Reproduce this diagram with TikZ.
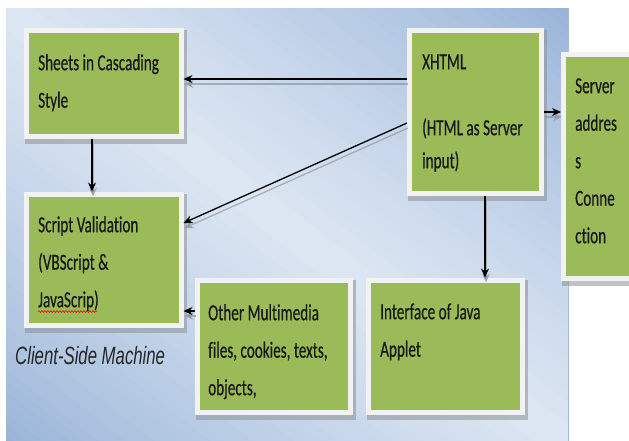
\documentclass[tikz,border=0pt]{standalone}
\usepackage{fontspec}
\newfontfamily\boxfont[FakeStretch=0.66,FakeBold=0.5,Ligatures=NoCommon]{Carlito}
\newfontfamily\capfont[FakeStretch=0.67]{Liberation Sans}
\usetikzlibrary{arrows.meta,decorations.pathmorphing}
\pgfdeclarelayer{bg}
\pgfsetlayers{bg,main}
\definecolor{bgdark}{RGB}{150,178,215}
\definecolor{bglight}{RGB}{222,231,243}
\definecolor{bgedge}{RGB}{170,188,212}
\definecolor{boxgreen}{RGB}{155,187,89}
\definecolor{boxedge}{RGB}{242,242,242}
\definecolor{shadowgray}{RGB}{140,146,150}
\newcommand\myconns[1]{%
  \draw[#1] (xhtml.west |- 0,79) -- (css.east |- 0,79);
  \draw[#1] (xhtml.west |- 0,123) -- (script.east |- 0,223);
  \draw[#1] (css.south -| 92,0) -- (script.north -| 92,0);
  \draw[#1] (other.west |- 0,311) -- (script.east |- 0,311);
  \draw[#1] (xhtml.east |- 0,112) -- (server.west |- 0,112);
  \draw[#1] (xhtml.south -| 485,0) -- (java.north -| 485,0);
}
\begin{document}
\begin{tikzpicture}[x=1pt,y=-1pt,
  box/.style={draw=boxedge, line width=5pt, fill=boxgreen, inner sep=0pt},
  txt/.style={font=\boxfont\fontsize{23}{37.5}\selectfont, align=left, inner sep=0pt, anchor=north west, text=black!90},
  conn/.style={draw=black, line width=1.3pt, -{Stealth[length=9pt,width=8pt]}},
  connshadow/.style={draw=shadowgray, line width=1.3pt, -{Stealth[length=9pt,width=8pt]}, opacity=0.65, transform canvas={shift={(1,5)}}},
  boxshadow/.style={fill=shadowgray, opacity=0.55},
]
\useasboundingbox (0,0) rectangle (629,440);

% boxes
\node[box, minimum width=155pt, minimum height=106pt] (css) at (103.5,83) {};
\node[box, minimum width=155pt, minimum height=131pt] (script) at (103.5,259.5) {};
\node[box, minimum width=132pt, minimum height=163pt] (xhtml) at (475.5,111.5) {};
\node[box, minimum width=96.5pt, minimum height=224pt] (server) at (611.75,166) {};
\node[box, minimum width=153pt, minimum height=132pt] (other) at (273.5,346) {};
\node[box, minimum width=154pt, minimum height=132pt] (java) at (445,346) {};

% background (diagonal gradient built from bands) and shadows
\begin{pgfonlayer}{bg}
  \begin{scope}[shift={(6,446)}, x=562pt, y=438pt]
    \clip (0,0) rectangle (1,1);
    \foreach \k in {0,...,79}{
      \pgfmathsetmacro\ca{\k/40}
      \pgfmathsetmacro\cb{(\k+1.3)/40}
      \pgfmathsetmacro\pl{100*(1-abs((\k+0.5)/40-1))^0.8}
      \fill[bglight!\pl!bgdark] (-1,\ca+1) -- (2,\ca-2) -- (2,\cb-2) -- (-1,\cb+1) -- cycle;
    }
  \end{scope}
  \draw[bgedge, line width=0.8pt] (568,8) -- (568,446);
  \foreach \n in {css,script,xhtml,server,other,java}{
    \fill[boxshadow] ([shift={(1,2)}]\n.north west) rectangle ([shift={(3,5)}]\n.south east);
  }
\end{pgfonlayer}

% texts
\node[txt] (tcss) at (38,52) {\rule{0pt}{18pt}Sheets in Cascading\\Style};
\node[txt] (tscript) at (38,214) {\rule{0pt}{18pt}Script Validation\\(VBScript \&\\JavaScrip)};
\node[txt, font=\boxfont\fontsize{23}{33}\selectfont] (txhtml) at (422,51) {\rule{0pt}{18pt}XHTML\\\mbox{}\\(HTML as Server\\input)};
\node[txt] (tserver) at (575,75) {\rule{0pt}{18pt}Server\\addres\\s\\Conne\\ction};
\node[txt] (tother) at (208,302) {\rule{0pt}{18pt}Other Multimedia\\files, cookies, texts,\\objects,};
\node[txt] (tjava) at (380,301) {\rule{0pt}{18pt}Interface of Java\\Applet};
\node[font=\capfont\itshape\fontsize{25}{30}\selectfont, anchor=base west, inner sep=0pt, text=black!85] (client) at (15,364) {Client-Side Machine};

% spelling mark
\draw[red, line width=0.6pt, decorate, decoration={snake, amplitude=0.9pt, segment length=3pt}] (38,311.5) -- (97,311.5);

% connectors
\myconns{connshadow}
\myconns{conn}
\end{tikzpicture}
\end{document}
